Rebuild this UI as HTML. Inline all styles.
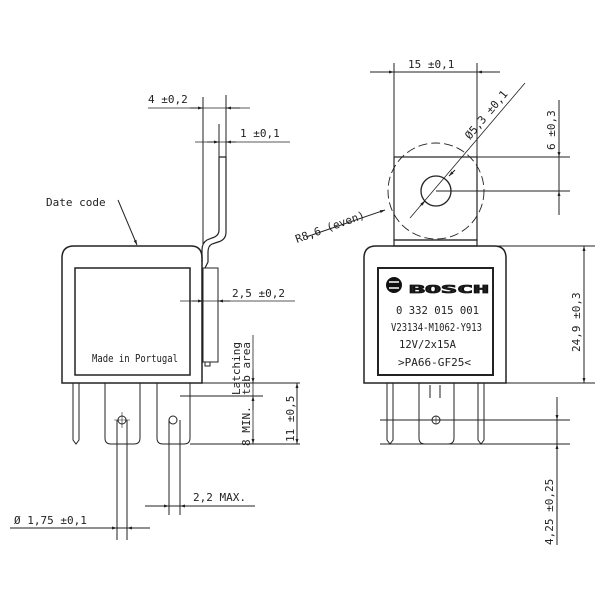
<!DOCTYPE html>
<html><head><style>body{margin:0;background:#fff}svg{display:block}text{font-family:"DejaVu Sans Mono","Liberation Mono",monospace;fill:#222;font-size:11px}</style></head><body>
<svg width="600" height="600" viewBox="0 0 600 600" xmlns="http://www.w3.org/2000/svg">
<defs><marker id="a" viewBox="0 0 10 10" refX="10" refY="5" markerWidth="7" markerHeight="5" orient="auto-start-reverse"><path d="M0,2L10,5L0,8z" fill="#222"/></marker></defs>
<g stroke="#222" fill="none" stroke-width="1">
<path d="M62,383V258Q62,246 74,246H191Q202,246 202,258V383Z" stroke-width="1.5"/>
<rect x="75" y="268" width="115" height="107" stroke-width="1.5"/>
<rect x="203" y="268" width="15" height="94"/>
<rect x="205" y="362" width="5" height="4"/>
<path d="M219,157H226V232Q226,240 218,242L212,244Q208,246 208,252V262L205,268 M219,157V230Q219,236 212,238L207,240Q202,243 202,250V262" stroke-width="1.2"/>
<path d="M73,383V440L76,444L79,440V383"/>
<path d="M105,383V438Q105,444 111,444H134Q140,444 140,438V383"/>
<path d="M157,383V438Q157,444 163,444H184Q190,444 190,438V383"/>
<circle cx="122" cy="420" r="4"/><circle cx="173" cy="420" r="4"/>
<path d="M122,412V428M114,420H130" stroke-width="0.6"/>
<path d="M203,245V97M226,157V95M219,157V124"/>
<path d="M148,108H250" stroke-width="0.8"/>
<path d="M190,108H203" marker-end="url(#a)"/><path d="M240,108H226" marker-end="url(#a)"/>
<path d="M195,142H290" stroke-width="0.8"/>
<path d="M207,142H219" marker-end="url(#a)"/><path d="M236,142H226" marker-end="url(#a)"/>
<path d="M180,301H295" stroke-width="0.8"/>
<path d="M192,301H203" marker-end="url(#a)"/><path d="M230,301H218" marker-end="url(#a)"/>
<path d="M118,200L137,245" marker-end="url(#a)"/>
<path d="M202,383H300M180,396H263M190,444H300"/>
<path d="M253,335V444" stroke-width="0.8"/>
<path d="M253,370V383" marker-end="url(#a)"/><path d="M253,410V396" marker-end="url(#a)"/><path d="M253,430V444" marker-end="url(#a)"/>
<path d="M297,383V444" marker-start="url(#a)" marker-end="url(#a)"/>
<path d="M117,420V540M127,420V540M10,528H150"/>
<path d="M105,528H117" marker-end="url(#a)"/><path d="M140,528H127" marker-end="url(#a)"/>
<path d="M169,420V515M180,420V515M145,506H255"/>
<path d="M158,506H169" marker-end="url(#a)"/><path d="M192,506H180" marker-end="url(#a)"/>
<path d="M364,383V258Q364,246 376,246H494Q506,246 506,258V383Z" stroke-width="1.5"/>
<rect x="378" y="268" width="115" height="107" stroke-width="2"/>
<rect x="394" y="157" width="83" height="83" stroke-width="1.2"/>
<rect x="394" y="240" width="83" height="6" stroke-width="1.2"/>
<circle cx="436" cy="191" r="48" stroke-dasharray="9,4" stroke-width="0.9"/>
<circle cx="436" cy="191" r="15" stroke-width="1.3"/>
<path d="M387,383V440L390,444L393,440V383M478,383V440L481,444L484,440V383"/>
<path d="M419,383V438Q419,444 425,444H448Q454,444 454,438V383M430,385V398M440,385V398"/>
<circle cx="436" cy="420" r="4"/><path d="M436,416V424" stroke-width="0.6"/>
<path d="M394,157V63M477,240V63M370,72H500"/>
<path d="M382,72H394" marker-end="url(#a)"/><path d="M490,72H477" marker-end="url(#a)"/>
<path d="M410,218L525,83" stroke-width="0.8"/>
<path d="M420,206L425,201" marker-end="url(#a)"/><path d="M455,170L449,176" marker-end="url(#a)"/>
<path d="M477,157H570M436,191H570M559,100V215"/>
<path d="M559,145V157" marker-end="url(#a)"/><path d="M559,205V191" marker-end="url(#a)"/>
<path d="M306,237L385,210" marker-end="url(#a)"/>
<path d="M480,246H595M506,383H595M584,246V383" />
<path d="M584,258V246" marker-end="url(#a)"/><path d="M584,372V383" marker-end="url(#a)"/>
<path d="M380,420H570M380,444H570M557,397V545"/>
<path d="M557,408V420" marker-end="url(#a)"/><path d="M557,456V444" marker-end="url(#a)"/>
</g>
<text x="46" y="206" font-size="11">Date code</text>
<text x="148" y="103">4 ±0,2</text>
<text x="240" y="137">1 ±0,1</text>
<text x="232" y="297">2,5 ±0,2</text>
<text x="92" y="362" font-size="8" textLength="86" lengthAdjust="spacingAndGlyphs">Made in Portugal</text>
<text transform="translate(240,395) rotate(-90)" font-size="11">Latching</text>
<text transform="translate(250,395) rotate(-90)" font-size="11">tab area</text>
<text transform="translate(250,446) rotate(-90)" font-size="11">8 MIN.</text>
<text transform="translate(294,442) rotate(-90)" font-size="11">11 ±0,5</text>
<text x="14" y="524" font-size="12">Ø 1,75 ±0,1</text>
<text x="193" y="501" font-size="12">2,2 MAX.</text>
<text x="408" y="68" font-size="12">15 ±0,1</text>
<text transform="translate(470,140) rotate(-50)" font-size="12">Ø5,3 ±0,1</text>
<text transform="translate(555,150) rotate(-90)" font-size="12">6 ±0,3</text>
<text transform="translate(297,243) rotate(-20)" font-size="11">R8,6 (even)</text>
<text transform="translate(580,352) rotate(-90)" font-size="12">24,9 ±0,3</text>
<text transform="translate(553,545) rotate(-90)" font-size="12">4,25 ±0,25</text>
<circle cx="394" cy="285" r="8" fill="#111"/>
<path d="M389,282H399M389,288H399" stroke="#fff" stroke-width="1.6"/>
<text x="409" y="293" font-family="Liberation Sans,sans-serif" font-size="21" font-weight="bold" fill="#fff" stroke="#111" stroke-width="0.8" textLength="80" lengthAdjust="spacingAndGlyphs">BOSCH</text>
<text x="396" y="314" font-size="11" textLength="83" lengthAdjust="spacingAndGlyphs">0 332 015 001</text>
<text x="391" y="331" font-size="10" textLength="91" lengthAdjust="spacingAndGlyphs">V23134-M1062-Y913</text>
<text x="399" y="348" font-size="10" textLength="57" lengthAdjust="spacingAndGlyphs">12V/2x15A</text>
<text x="398" y="366" font-size="10" textLength="73" lengthAdjust="spacingAndGlyphs">&gt;PA66-GF25&lt;</text>
</svg>
</body></html>
